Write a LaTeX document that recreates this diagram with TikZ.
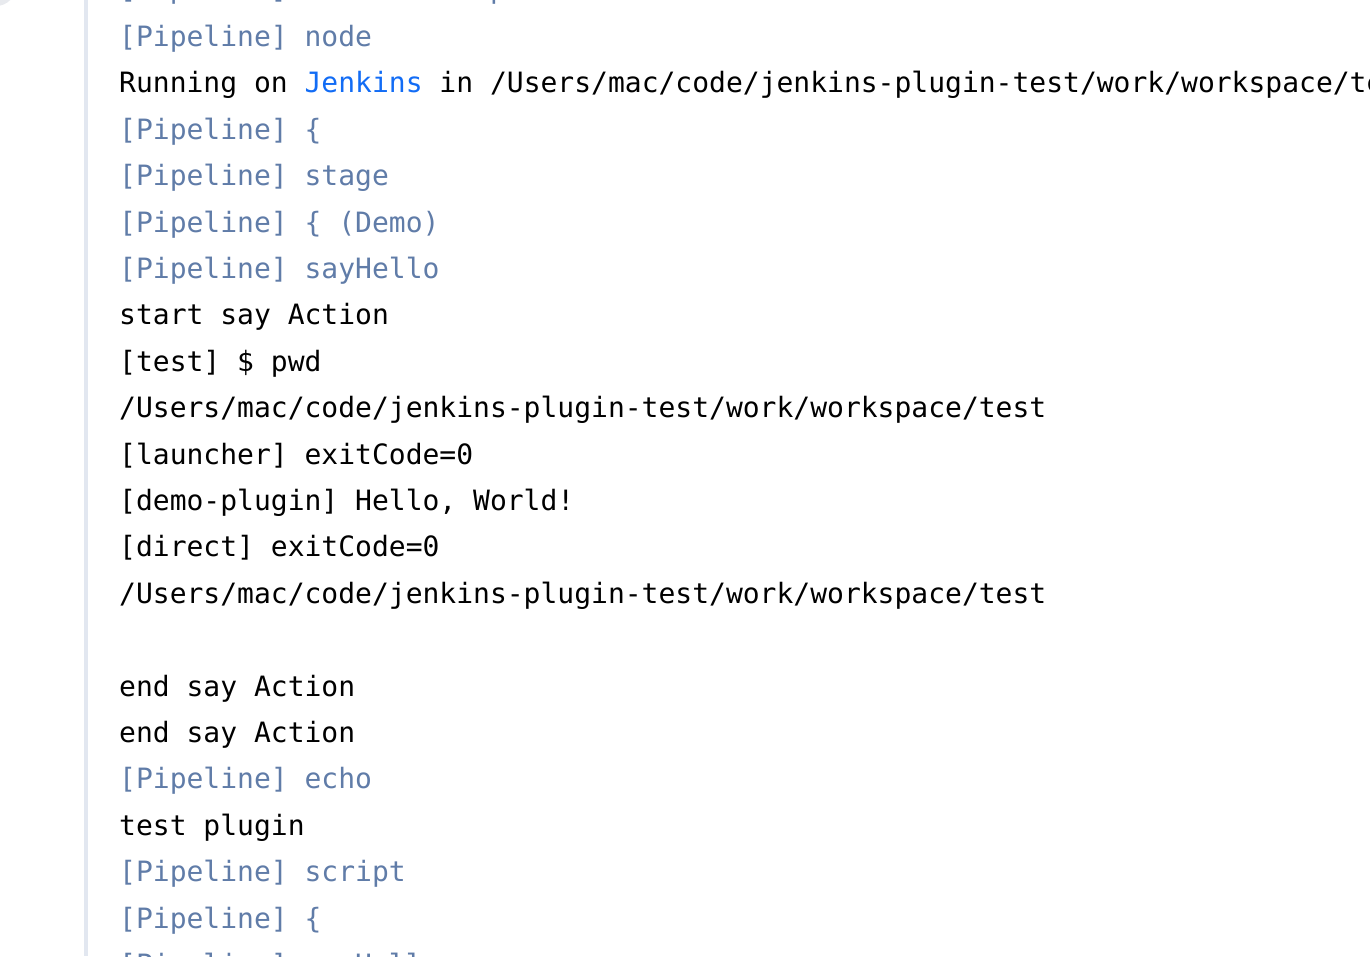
\documentclass[tikz,border=0pt]{standalone}
\usepackage{fontspec}
\usepackage{tikz}
\newfontfamily\logfont{DejaVu Sans Mono}
\definecolor{pipeblue}{RGB}{96,124,168}
\definecolor{linkblue}{RGB}{18,108,245}
\definecolor{gutter}{RGB}{226,231,240}
\definecolor{avatar}{RGB}{232,234,238}

\begin{document}
\begin{tikzpicture}[
    x=1pt, y=-1pt,
    logline/.style={
        anchor=base west,
        inner sep=0pt,
        font=\logfont\fontsize{28}{46}\selectfont
    },
    pipe/.style={logline, text=pipeblue},
    plain/.style={logline, text=black}
]
\useasboundingbox (0,0) rectangle (1370,956);
\clip (0,0) rectangle (1370,956);

% 左上角头像与竖线
\fill[avatar] (-4,-14) circle (20);
\fill[gutter] (84,0) rectangle (87.5,956);

% 日志行
\node[pipe]  (l00) at (119,-1.2) {[Pipeline] Start of Pipeline};
\node[pipe]  (l01) at (119,46.5) {[Pipeline] node};
\node[plain] (l02) at (119,92.9) {Running on \textcolor{linkblue}{Jenkins} in /Users/mac/code/jenkins-plugin-test/work/workspace/test};
\node[pipe]  (l03) at (119,139.3) {[Pipeline] \{};
\node[pipe]  (l04) at (119,185.7) {[Pipeline] stage};
\node[pipe]  (l05) at (119,232.1) {[Pipeline] \{ (Demo)};
\node[pipe]  (l06) at (119,278.5) {[Pipeline] sayHello};
\node[plain] (l07) at (119,324.9) {start say Action};
\node[plain] (l08) at (119,371.3) {[test] \$ pwd};
\node[plain] (l09) at (119,417.7) {/Users/mac/code/jenkins-plugin-test/work/workspace/test};
\node[plain] (l10) at (119,464.1) {[launcher] exitCode=0};
\node[plain] (l11) at (119,510.5) {[demo-plugin] Hello, World!};
\node[plain] (l12) at (119,556.9) {[direct] exitCode=0};
\node[plain] (l13) at (119,603.3) {/Users/mac/code/jenkins-plugin-test/work/workspace/test};
\node[plain] (l15) at (119,696.1) {end say Action};
\node[plain] (l16) at (119,742.5) {end say Action};
\node[pipe]  (l17) at (119,788.9) {[Pipeline] echo};
\node[plain] (l18) at (119,835.3) {test plugin};
\node[pipe]  (l19) at (119,881.7) {[Pipeline] script};
\node[pipe]  (l20) at (119,928.1) {[Pipeline] \{};
\node[pipe]  (l21) at (119,974.5) {[Pipeline] sayHello};

\end{tikzpicture}
\end{document}
